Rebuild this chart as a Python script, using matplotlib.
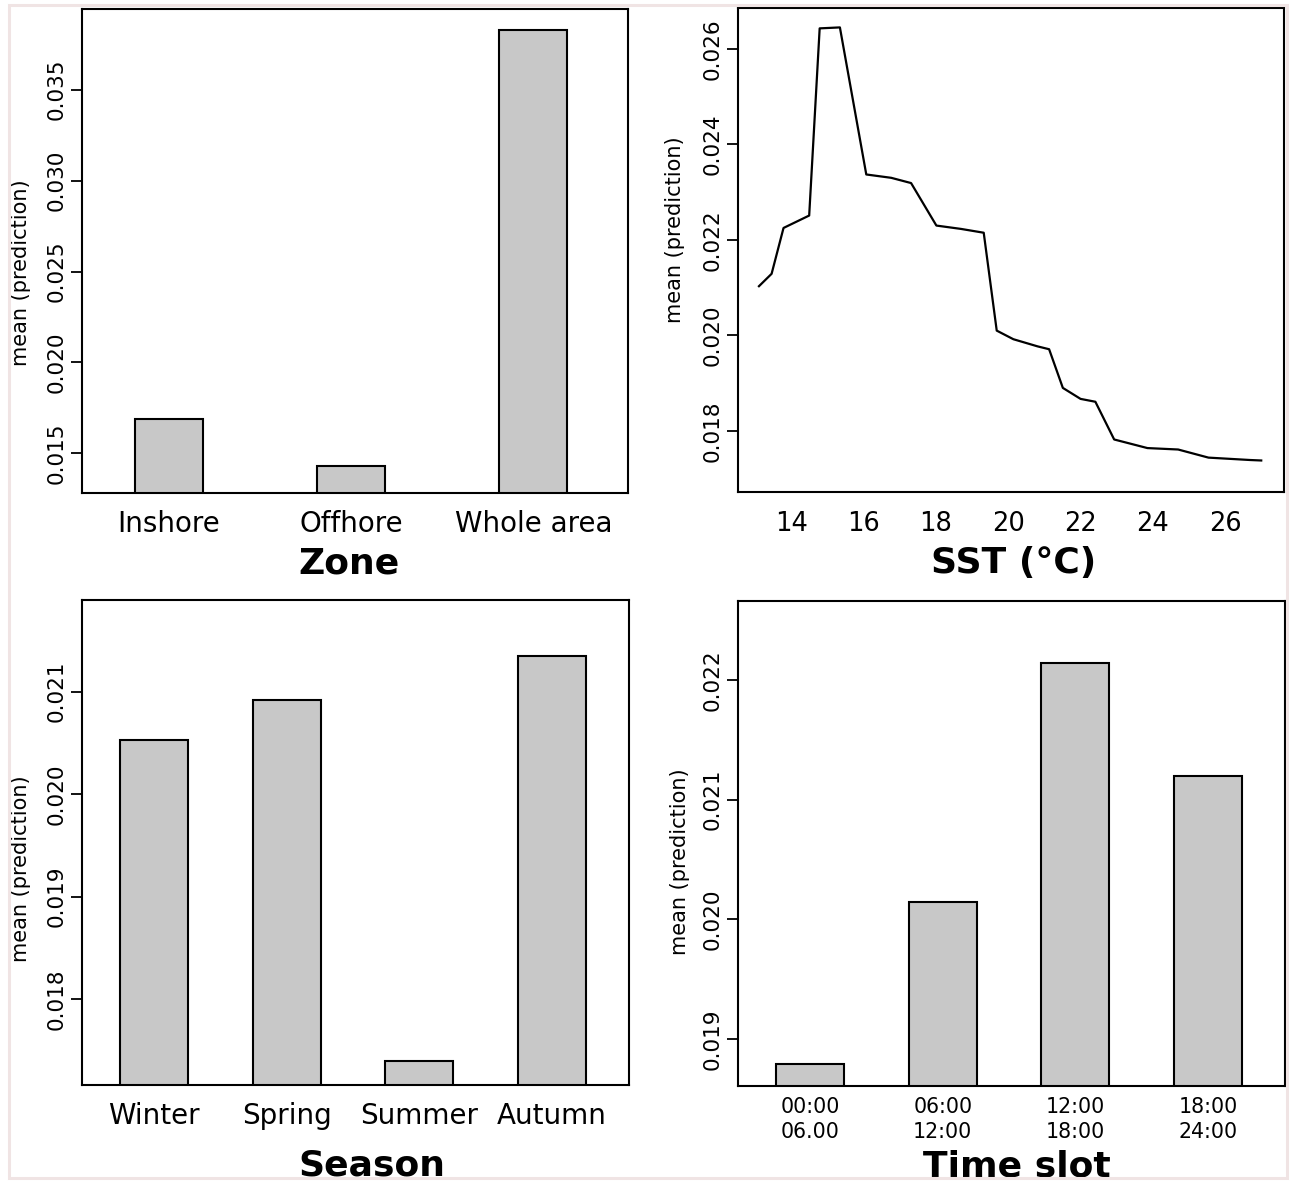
import matplotlib
matplotlib.use("Agg")
import matplotlib.pyplot as plt
from matplotlib.patches import Rectangle

plt.rcParams['font.family'] = ['DejaVu Sans']

# ---- data ----
zones = ["Inshore", "Offhore", "Whole area"]
zone_vals = [0.01687, 0.01428, 0.0383]

sst = [13.10, 13.45, 13.78, 14.49, 14.78, 15.34, 16.07, 16.76, 17.31, 18.01,
       18.69, 19.32, 19.68, 20.14, 20.81, 21.13, 21.51, 22.00, 22.41, 22.93,
       23.85, 24.70, 25.54, 26.69, 27.00]
sst_vals = [0.02103, 0.02129, 0.02225, 0.02251, 0.02643, 0.02645, 0.02337,
            0.02330, 0.02319, 0.02230, 0.02223, 0.02215, 0.02010, 0.01992,
            0.01977, 0.01971, 0.01890, 0.01867, 0.01861, 0.01782, 0.01764,
            0.01761, 0.01744, 0.01739, 0.01738]
sst_ticks = [14, 16, 18, 20, 22, 24, 26]

seasons = ["Winter", "Spring", "Summer", "Autumn"]
season_vals = [0.02053, 0.02092, 0.01740, 0.02135]

slots = ["00:00\n06.00", "06:00\n12:00", "12:00\n18:00", "18:00\n24:00"]
slot_vals = [0.018793, 0.020147, 0.022136, 0.021195]

W, H = 1290, 1181
fig = plt.figure(figsize=(W / 100, H / 100), dpi=100)

def px_axes(l, r, t, b):
    return fig.add_axes([l / W, 1 - b / H, (r - l) / W, (b - t) / H])

BAR_FC = "#c8c8c8"
YLAB = "mean (prediction)"

def style(ax, yticks, xlab, xlab_pos, ylab_pos, xtick_size=20, xpad=12,
          xlab_va='center'):
    for s in ax.spines.values():
        s.set_linewidth(1.5)
    ax.set_yticks(yticks)
    ax.set_yticklabels([f"{v:.3f}" for v in yticks])
    ax.tick_params(axis='y', length=8, width=1.3, pad=3, labelsize=15.5,
                   labelrotation=90)
    for lab in ax.get_yticklabels():
        lab.set_va('center')
    ax.tick_params(axis='x', length=0, pad=xpad, labelsize=xtick_size)
    ax.set_xlabel(xlab, fontsize=26, fontweight='bold')
    ax.xaxis.set_label_coords(*xlab_pos)
    ax.xaxis.label.set_va(xlab_va)
    ax.set_ylabel(YLAB, fontsize=15)
    ax.yaxis.set_label_coords(*ylab_pos)
    ax.yaxis.label.set_va('center')

# Top-left: Zone
ax1 = px_axes(82, 628, 9, 493)
ax1.bar(range(len(zones)), zone_vals, width=0.373, color=BAR_FC,
        edgecolor='black', linewidth=1.5)
ax1.set_xlim(-0.477, 2.52)
ax1.set_ylim(0.01282, 0.03944)
ax1.set_xticks(range(len(zones)))
ax1.set_xticklabels(zones)
style(ax1, [0.015, 0.020, 0.025, 0.030, 0.035], "Zone",
      (0.489, -0.145), (-0.1117, 0.4545))

# Top-right: SST
ax2 = px_axes(738, 1284, 7.5, 492)
ax2.plot(sst, sst_vals, color='black', linewidth=1.6)
ax2.set_xlim(12.52, 27.63)
ax2.set_ylim(0.01672, 0.026867)
ax2.set_xticks(sst_ticks)
style(ax2, [0.018, 0.020, 0.022, 0.024, 0.026], "SST (°C)",
      (0.504, -0.1466), (-0.1154, 0.541), xtick_size=18.5, xpad=14)

# Bottom-left: Season
ax3 = px_axes(82, 628.6, 600, 1085)
ax3.bar(range(len(seasons)), season_vals, width=0.513, color=BAR_FC,
        edgecolor='black', linewidth=1.5)
ax3.set_xlim(-0.544, 3.58)
ax3.set_ylim(0.017161, 0.021893)
ax3.set_xticks(range(len(seasons)))
ax3.set_xticklabels(seasons)
style(ax3, [0.018, 0.019, 0.020, 0.021], "Season",
      (0.531, -0.1865), (-0.1116, 0.447), xlab_va='baseline')

# Bottom-right: Time slot
ax4 = px_axes(738, 1285, 600.6, 1085.7)
ax4.bar(range(len(slots)), slot_vals, width=0.513, color=BAR_FC,
        edgecolor='black', linewidth=1.5)
ax4.set_xlim(-0.544, 3.58)
ax4.set_ylim(0.018610, 0.022661)
ax4.set_xticks(range(len(slots)))
ax4.set_xticklabels(slots, linespacing=1.3)
style(ax4, [0.019, 0.020, 0.021, 0.022], "Time slot",
      (0.51, -0.1865), (-0.106, 0.461), xtick_size=14.8, xpad=8,
      xlab_va='baseline')

# faint outer border
fig.patches.append(Rectangle((9 / W, 1 - 1178 / H), (1287 - 9) / W,
                             (1178 - 5) / H, transform=fig.transFigure,
                             fill=False, edgecolor='#f0e4e4', linewidth=2.2))

fig.savefig("out.png", dpi=100)
